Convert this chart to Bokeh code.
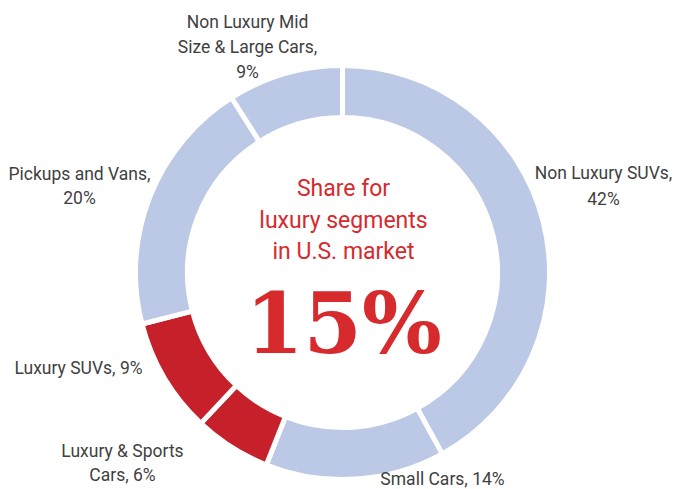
import math
from bokeh.plotting import figure
from bokeh.models import Range1d, ColumnDataSource
from bokeh.core.properties import value
from bokeh.embed import file_html
from bokeh.resources import INLINE

# ---- data ----
categories = ["Non Luxury SUVs", "Small Cars", "Luxury & Sports Cars",
              "Luxury SUVs", "Pickups and Vans", "Non Luxury Mid Size & Large Cars"]
shares = [42, 14, 6, 9, 20, 9]
is_luxury = [False, False, True, True, False, False]
label_texts = ["Non Luxury SUVs,\n42%", "Small Cars, 14%", "Luxury & Sports\nCars, 6%",
               "Luxury SUVs, 9%", "Pickups and Vans,\n20%", "Non Luxury Mid\nSize & Large Cars,\n9%"]
center_lines = ["Share for", "luxury segments", "in U.S. market"]
luxury_total = sum(s for s, l in zip(shares, is_luxury) if l)

# ---- layout / style (screen px of the 675x489 page) ----
W, H = 675, 489
CX, CY = 342, 272
R_OUT, R_IN = 207, 155
BLUE = "#BBC9E6"
RED = "#C6202A"
TXT_RED = "#D62A2D"
GREY = "#3F3F3F"
FONT = "Roboto"
# label anchor: (center x, first line center y, line step)
label_pos = [(603, 172, 26), (442, 478, 24), (122, 450, 24), (78, 367, 24),
             (79, 173, 24), (247, 21, 25)]

def sy(y):
    return H - y

p = figure(width=W, height=H, output_backend="svg", toolbar_location=None,
           x_range=Range1d(0, W), y_range=Range1d(0, H), min_border=0)
p.axis.visible = False
p.grid.visible = False
p.outline_line_color = None
p.background_fill_color = "white"

total = sum(shares)
starts, ends, colors = [], [], []
cum = 0
for s, lux in zip(shares, is_luxury):
    a0 = math.pi / 2 - 2 * math.pi * cum / total
    cum += s
    a1 = math.pi / 2 - 2 * math.pi * cum / total
    starts.append(a0)
    ends.append(a1)
    colors.append(RED if lux else BLUE)

src = ColumnDataSource(dict(cat=categories, share=shares, start=starts, end=ends, color=colors))
p.annular_wedge(x=CX, y=sy(CY), inner_radius=R_IN, outer_radius=R_OUT,
                start_angle="start", end_angle="end", direction="clock",
                fill_color="color", line_color="white", line_width=5, source=src)

# labels
lx, ly, lt = [], [], []
for txt, (x, y, step) in zip(label_texts, label_pos):
    for i, line in enumerate(txt.split("\n")):
        lx.append(x)
        ly.append(sy(y + i * step))
        lt.append(line)
p.text(x=lx, y=ly, text=lt, text_font=value(FONT), text_font_size="17.5px",
       text_color=GREY, text_align="center", text_baseline="alphabetic")

# center text
cl_y = [sy(v) for v in (188, 220, 251)]
p.text(x=[343] * len(center_lines), y=cl_y, text=center_lines, text_font=value(FONT),
       text_font_size="23px", text_color=TXT_RED, text_align="center",
       text_baseline="alphabetic")
p.text(x=[343], y=[sy(323)], text=[f"{luxury_total}%"], text_font=value("DejaVu Serif"),
       text_font_size="84px", text_font_style="bold", text_color=TXT_RED,
       text_align="center", text_baseline="alphabetic")

open("out.html", "w").write(file_html(p, INLINE))
